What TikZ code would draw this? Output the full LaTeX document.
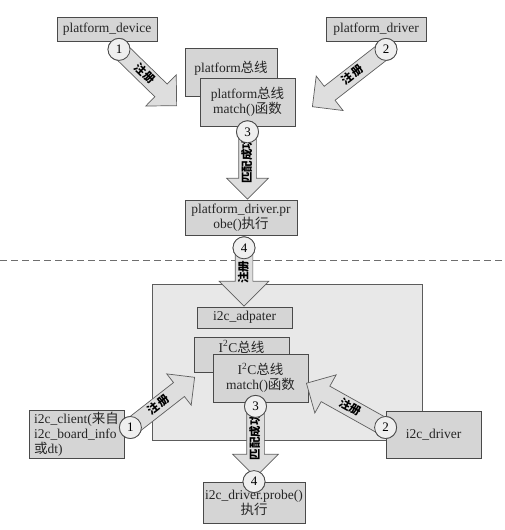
\documentclass[tikz,border=0pt]{standalone}
\usepackage{fontspec}
\setmainfont{Liberation Serif}
\newfontfamily\cjk{Noto Sans CJK SC}
\usepackage{xcolor}
\usetikzlibrary{positioning,calc,shapes.arrows}

\definecolor{edge}{HTML}{4A4A4A}
\definecolor{boxfill}{HTML}{D5D5D5}
\definecolor{panelfill}{HTML}{E8E8E8}
\definecolor{arrowfill}{HTML}{DEDEDE}
\definecolor{arrowedge}{HTML}{5E5E5E}
\definecolor{numfill}{HTML}{EFEFEF}

\begin{document}
\begin{tikzpicture}[x=1pt,y=-1pt,
    box/.style={draw=edge,fill=boxfill,line width=.8pt,align=center,
      font=\fontsize{13.5}{15}\selectfont,inner sep=2pt,text=black!85},
    num/.style={circle,draw=edge,fill=numfill,line width=.8pt,minimum size=22pt,
      inner sep=0pt,font=\fontsize{13}{13}\selectfont},
    fat/.style={single arrow,draw=arrowedge,fill=arrowfill,line width=.7pt,
      font=\cjk\bfseries\fontsize{11.5}{12}\selectfont,text height=9pt,text depth=2pt,
      inner ysep=3pt,inner xsep=2pt,single arrow head extend=13pt,anchor=tip},
    fatback/.style={fat,shape border rotate=180}
  ]
    \useasboundingbox (0,0) rectangle (504,530);

    % platform side
    \node[box,minimum width=100pt,minimum height=24pt] (pdev) at (107,29) {platform\_device};
    \node[box,minimum width=100pt,minimum height=24pt] (pdrv) at (376,29) {platform\_driver};
    \node[box,minimum width=92pt,minimum height=48pt,inner sep=3pt,
      text height=21pt,text depth=21pt] (pbus) at (231,72) {platform{\cjk 总线}};
    \node[box,minimum width=95pt,minimum height=48pt] (pmatch) at (247.5,102)
      {platform{\cjk 总线}\\match(){\cjk 函数}};
    \node[box,minimum width=112pt,minimum height=35pt] (pprobe) at (241,217.5)
      {platform\_driver.pr\\obe(){\cjk 执行}};

    \draw[edge!80,line width=.7pt,dash pattern=on 7pt off 4pt] (0,260) -- (504,260);

    % i2c side
    \node[draw=edge!90,fill=panelfill,line width=.7pt,minimum width=270pt,
      minimum height=156pt] (panel) at (287,362) {};
    \node[box,minimum width=95pt,minimum height=21pt] (adap) at (244.5,317.5) {i2c\_adpater};
    \node[box,minimum width=95pt,minimum height=35pt,inner sep=3pt,
      text height=12pt,text depth=17pt] (ibus) at (241.5,354.5) {I\textsuperscript{2}C{\cjk 总线}};
    \node[box,minimum width=95pt,minimum height=48pt] (imatch) at (260.5,378)
      {I\textsuperscript{2}C{\cjk 总线}\\match(){\cjk 函数}};
    \node[box,minimum width=95pt,minimum height=47pt,align=left] (client) at (76.5,434.5)
      {i2c\_client({\cjk 来自}\\i2c\_board\_info\\{\cjk 或}dt)};
    \node[box,minimum width=95pt,minimum height=47pt] (idrv) at (433.5,434.5) {i2c\_driver};
    \node[box,minimum width=102pt,minimum height=41pt] (iprobe) at (254,502.5)
      {i2c\_driver.probe()\\{\cjk 执行}};

    % number circles (placed first, drawn later)
    \path node[num] (c1) at ([xshift=12pt,yshift=-8pt]pdev.south) {}
      node[num] (c2) at ([xshift=10pt,yshift=-8pt]pdrv.south) {}
      node[num,below=-6pt of pmatch] (c3) {}
      node[num,below=1pt of pprobe,xshift=3pt] (c4) {}
      node[num] (d1) at ([xshift=6pt,yshift=7pt]client.east) {}
      node[num] (d2) at ([yshift=7pt]idrv.west) {}
      node[num] (d3) at ([xshift=-5pt,yshift=-4pt]imatch.south) {}
      node[num] (d4) at (iprobe.north) {};

    \coordinate (t1) at (177,106);
    \coordinate (t2) at (312,107);
    \coordinate (t3) at (c3 |- pprobe.north);
    \coordinate (t4) at (c4 |- adap.north);
    \coordinate (u1) at (195,377);
    \coordinate (u2) at (306,383);
    \coordinate (u3) at ([yshift=4pt]d3 |- iprobe.north);

    % fat arrows
    \path let \p1=($(t1)-(c1)$),\n1={atan2(\y1,\x1)},\n2={veclen(\x1,\y1)} in
      node[fat,rotate=\n1,minimum height=\n2] at (t1) {注册};
    \path let \p1=($(c2)-(t2)$),\n1={atan2(\y1,\x1)},\n2={veclen(\x1,\y1)} in
      node[fatback,rotate=\n1,minimum height=\n2] at (t2) {注册};
    \path let \p1=($(c3)-(t3)$),\n1={atan2(\y1,\x1)},\n2={veclen(\x1,\y1)} in
      node[fatback,rotate=\n1,minimum height=\n2,single arrow head extend=12pt] at (t3) {匹配成功};
    \path let \p1=($(c4)-(t4)$),\n1={atan2(\y1,\x1)},\n2={veclen(\x1,\y1)} in
      node[fatback,rotate=\n1,minimum height=\n2,single arrow head extend=16pt] at (t4) {注册};
    \path let \p1=($(u1)-(d1)$),\n1={atan2(\y1,\x1)},\n2={veclen(\x1,\y1)} in
      node[fat,rotate=\n1,minimum height=\n2,single arrow head extend=11pt] at (u1) {注册};
    \path let \p1=($(d2)-(u2)$),\n1={atan2(\y1,\x1)},\n2={veclen(\x1,\y1)} in
      node[fatback,rotate=\n1,minimum height=\n2] at (u2) {注册};
    \path let \p1=($(d3)-(u3)$),\n1={atan2(\y1,\x1)},\n2={veclen(\x1,\y1)} in
      node[fatback,rotate=\n1,minimum height=\n2,single arrow head extend=14pt] at (u3) {匹配成功};

    % circles on top
    \foreach \c/\t in {c1/1,c2/2,c3/3,c4/4,d1/1,d2/2,d3/3,d4/4}
      \node[num] at (\c) {\t};
  \end{tikzpicture}
\end{document}
